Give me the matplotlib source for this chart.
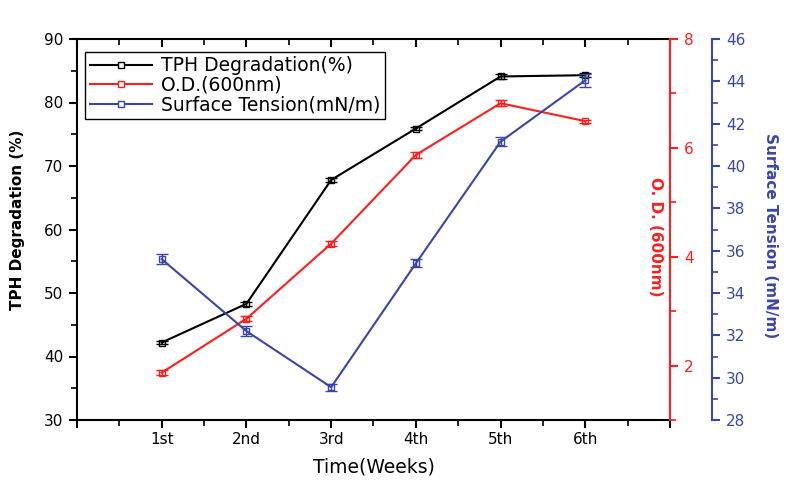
import matplotlib
matplotlib.use("Agg")
import matplotlib.pyplot as plt
from matplotlib.ticker import MultipleLocator, FixedLocator
from matplotlib.lines import Line2D

weeks = ["1st", "2nd", "3rd", "4th", "5th", "6th"]
tph = [42.2, 48.3, 67.8, 75.9, 84.1, 84.3]
tph_err = [0.3, 0.3, 0.3, 0.3, 0.35, 0.35]
od = [1.87, 2.86, 4.24, 5.87, 6.82, 6.49]
od_err = [0.04, 0.05, 0.05, 0.05, 0.06, 0.03]
st = [35.6, 32.2, 29.55, 35.4, 41.15, 44.05]
st_err = [0.22, 0.23, 0.17, 0.19, 0.21, 0.3]
series_names = ["TPH Degradation(%)", "O.D.(600nm)", "Surface Tension(mN/m)"]

RED = "#FF1E1E"
BLUE = "#3A46A6"
FONT = "DejaVu Sans"
plt.rcParams["font.family"] = FONT

fig = plt.figure(figsize=(8.0, 4.93), dpi=100)
ax = fig.add_axes([77/800, 1-420/493, (670-77)/800, (420-39)/493])
ax2 = ax.twinx()
ax3 = ax.twinx()

x = list(range(1, len(weeks) + 1))
ekw = dict(marker="s", markersize=4, markerfacecolor="none", capsize=4,
           elinewidth=1.0, capthick=1.0, linewidth=1.5)
ax.errorbar(x, tph, yerr=tph_err, color="black", markeredgecolor="black",
            ecolor="black", **ekw)
ax2.errorbar(x, od, yerr=od_err, color=RED, markeredgecolor=RED,
             ecolor=RED, **ekw)
ax3.errorbar(x, st, yerr=st_err, color=BLUE, markeredgecolor=BLUE,
             ecolor=BLUE, **ekw)

ax.set_xlim(0, 7)
ax.set_ylim(30, 90)
ax2.set_ylim(1, 8)
ax3.set_ylim(28, 46)

# x axis
ax.xaxis.set_major_locator(FixedLocator(range(0, 8)))
ax.set_xticklabels([""] + weeks + [""])
ax.xaxis.set_minor_locator(MultipleLocator(0.5))
ax.tick_params(axis="x", which="both", direction="out", top=False, labelsize=11, pad=3)
ax.tick_params(axis="x", which="major", length=6, width=1.5)
ax.tick_params(axis="x", which="minor", length=4, width=1.2)
# top mirrored ticks inward
secx = ax.secondary_xaxis("top")
secx.xaxis.set_major_locator(FixedLocator(range(0, 8)))
secx.xaxis.set_minor_locator(MultipleLocator(0.5))
secx.tick_params(axis="x", which="both", direction="in", labeltop=False)
secx.tick_params(axis="x", which="major", length=6, width=1.5)
secx.tick_params(axis="x", which="minor", length=4, width=1.2)
secx.spines["top"].set_linewidth(1.5)

# left axis
ax.yaxis.set_major_locator(MultipleLocator(10))
ax.yaxis.set_minor_locator(MultipleLocator(5))
ax.tick_params(axis="y", which="both", direction="out", labelsize=11, pad=4)
ax.tick_params(axis="y", which="major", length=6, width=1.5)
ax.tick_params(axis="y", which="minor", length=4, width=1.2)
ax.spines["right"].set_visible(False)
ax.spines["top"].set_visible(False)
for s in ["left", "bottom"]:
    ax.spines[s].set_linewidth(1.5)

# red axis
for s in ["left", "top", "bottom"]:
    ax2.spines[s].set_visible(False)
ax2.spines["right"].set_color(RED)
ax2.spines["right"].set_linewidth(1.5)
ax2.yaxis.set_major_locator(MultipleLocator(2))
ax2.yaxis.set_minor_locator(FixedLocator([1, 3, 5, 7]))
ax2.tick_params(axis="y", which="both", colors=RED, direction="out", labelsize=11, pad=4)
ax2.tick_params(axis="y", which="major", length=6, width=1.5)
ax2.tick_params(axis="y", which="minor", length=4, width=1.2)

# blue axis
for s in ["left", "top", "bottom"]:
    ax3.spines[s].set_visible(False)
ax3.spines["right"].set_position(("axes", (712-77)/(670-77)))
ax3.spines["right"].set_color(BLUE)
ax3.spines["right"].set_linewidth(1.5)
ax3.yaxis.set_major_locator(MultipleLocator(2))
ax3.yaxis.set_minor_locator(MultipleLocator(1))
ax3.tick_params(axis="y", which="both", colors=BLUE, direction="out", labelsize=11, pad=4)
ax3.tick_params(axis="y", which="major", length=6, width=1.5)
ax3.tick_params(axis="y", which="minor", length=4, width=1.2)

# labels
ax.set_xlabel("Time(Weeks)", fontsize=13.5)
ax.xaxis.set_label_coords(0.5, -0.098)
ax.set_ylabel("TPH Degradation (%)", fontsize=11, fontweight="bold")
ax.yaxis.set_label_coords(-0.088, 0.525)
ax2.set_ylabel("O. D. (600nm)", fontsize=11, fontweight="bold", color=RED,
               rotation=-90, va="center")
ax2.yaxis.set_label_coords(0.975, 0.48)
ax3.set_ylabel("Surface Tension (mN/m)", fontsize=11, fontweight="bold", color=BLUE,
               rotation=-90, va="center")
ax3.yaxis.set_label_coords(1.169, 0.483)

handles = [Line2D([], [], color=c, linewidth=1.5, marker="s", markersize=4,
                  markerfacecolor="white", markeredgecolor=c)
           for c in ["black", RED, BLUE]]
leg = ax3.legend(handles, series_names, loc="upper left",
                 bbox_to_anchor=((85-77)/593, (420-51.7)/381), borderaxespad=0,
                 fontsize=13.5, frameon=True, fancybox=False, edgecolor="black",
                 framealpha=1, handlelength=3.3, labelspacing=0.02,
                 borderpad=0.25, handletextpad=0.5)
leg.get_frame().set_linewidth(1.0)

fig.savefig("out.png", dpi=100)
